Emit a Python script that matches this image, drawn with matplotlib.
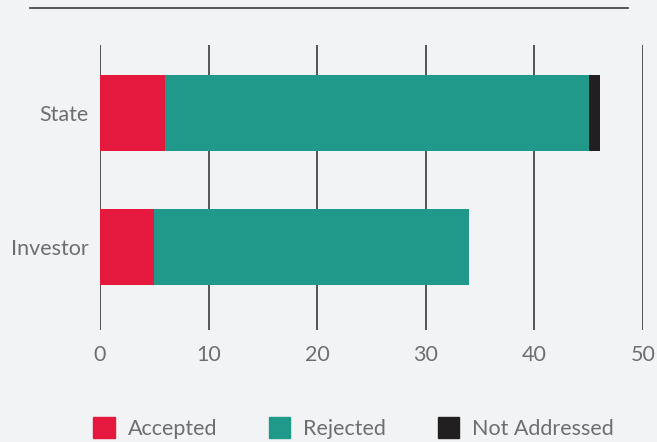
import matplotlib.pyplot as plt
from matplotlib.patches import Patch
from matplotlib.lines import Line2D

categories = ['Investor', 'State']
accepted = [5, 6]
rejected = [29, 39]
not_addressed = [0, 1]
series_names = ['Accepted', 'Rejected', 'Not Addressed']
x_ticks = [0, 10, 20, 30, 40, 50]

RED = '#e5183e'
TEAL = '#20998b'
BLACK = '#231f20'
TEXT = '#6d6e71'
BG = '#f2f3f5'

plt.rcParams['font.family'] = ['Lato', 'DejaVu Sans']

fig = plt.figure(figsize=(6.57, 4.42), dpi=100, facecolor=BG)
ax = fig.add_axes([100 / 657, 1 - 330 / 442, 543 / 657, 285 / 442])
ax.set_facecolor(BG)

ypos = list(range(len(categories)))
left2 = [a + r for a, r in zip(accepted, rejected)]
ax.barh(ypos, accepted, height=0.567, color=RED, zorder=3)
ax.barh(ypos, rejected, left=accepted, height=0.567, color=TEAL, zorder=3)
ax.barh(ypos, not_addressed, left=left2, height=0.567, color=BLACK, zorder=3)

ax.set_xlim(0, 50)
ax.set_ylim(-0.62, 1.51)
ax.set_xticks(x_ticks)
ax.set_yticks(ypos)
ax.set_yticklabels(categories)
ax.xaxis.grid(True, color='#3a3a3c', linewidth=1.2, zorder=0)
ax.set_axisbelow(True)
for s in ax.spines.values():
    s.set_visible(False)
ax.tick_params(axis='both', length=0, labelsize=15.5, colors=TEXT)
ax.tick_params(axis='x', pad=11)
ax.tick_params(axis='y', pad=8)

# thin rule at top
fig.add_artist(Line2D([30 / 657, 628 / 657], [1 - 8 / 442, 1 - 8 / 442],
                      color='#3a3a3c', linewidth=1.2, transform=fig.transFigure))

handles = [Patch(color=c) for c in [RED, TEAL, BLACK]]
fig.legend(handles, series_names, loc='center', bbox_to_anchor=(0.538, 1 - 428 / 442),
           ncol=3, frameon=False, fontsize=15.5, labelcolor=TEXT,
           handlelength=1.0, handleheight=1.1, columnspacing=2.4, handletextpad=0.6)

fig.savefig('out.png', dpi=100, facecolor=BG)
